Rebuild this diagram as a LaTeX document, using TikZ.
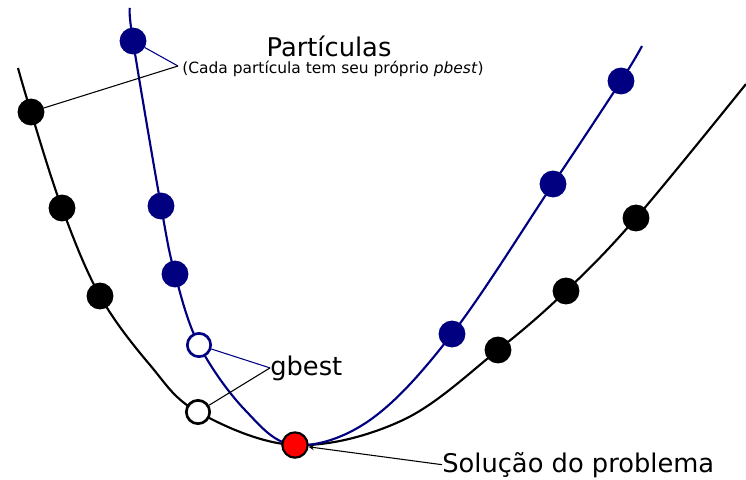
\documentclass[tikz,border=0pt]{standalone}
\usepackage{fontspec}
\setmainfont{DejaVu Sans}
\usetikzlibrary{positioning,calc}
\definecolor{psonavy}{HTML}{000080}

\begin{document}
\begin{tikzpicture}[
    x=0.75pt, y=-0.75pt,
    curve_black/.style={draw=black, line width=1.6pt},
    curve_blue/.style={draw=psonavy, line width=1.6pt},
    dot_black/.style={circle, fill=black, draw=black, line width=1.6pt, minimum size=18.5pt, inner sep=0pt},
    dot_blue/.style={circle, fill=psonavy, draw=psonavy, line width=1.6pt, minimum size=18.5pt, inner sep=0pt},
    open_black/.style={circle, fill=white, draw=black, line width=2pt, minimum size=17.5pt, inner sep=0pt},
    open_blue/.style={circle, fill=white, draw=psonavy, line width=2pt, minimum size=17.5pt, inner sep=0pt},
    sol_dot/.style={circle, fill=red, draw=black, line width=1.6pt, minimum size=19pt, inner sep=0pt},
    big_label/.style={font=\fontsize{19.3}{22}\selectfont, inner sep=0pt},
    small_label/.style={font=\fontsize{11.6}{13}\selectfont, inner sep=0pt},
    pointer/.style={line width=0.8pt},
    arrow/.style={->, >=stealth, line width=0.8pt}
]
\useasboundingbox (0,0) rectangle (746,479);

% CURVES
\draw[curve_black] plot[smooth, tension=0.6] coordinates {(18,68) (31,112) (62,208) (100,296) (150,365) (198,412) (295,445) (403,420) (498,350) (566,291) (636,218) (746,84)};
\draw[curve_blue] plot[smooth, tension=0.6] coordinates {(130,8) (133,41) (161,206) (175,274) (199,345) (245,410) (295,445) (370,420) (452,334) (553,184) (621,81) (642,46)};

% BLACK PARTICLES
\node[dot_black] (k1) at (31,112) {};
\node[dot_black] (k2) at (62,208) {};
\node[dot_black] (k3) at (100,296) {};
\node[open_black] (kbest) at (198,412) {};
\node[dot_black] (k4) at (498,350) {};
\node[dot_black] (k5) at (566,291) {};
\node[dot_black] (k6) at (636,218) {};

% BLUE PARTICLES
\node[dot_blue] (b1) at (133,41) {};
\node[dot_blue] (b2) at (161,206) {};
\node[dot_blue] (b3) at (175,274) {};
\node[open_blue] (bbest) at (199,345) {};
\node[dot_blue] (b4) at (452,334) {};
\node[dot_blue] (b5) at (553,184) {};
\node[dot_blue] (b6) at (621,81) {};

% SOLUTION
\node[sol_dot] (sol) at (295,445) {};

% LABELS
\coordinate (pjoin) at (178,66);
\node[big_label, anchor=base] (part) at (329,56) {Partículas};
\node[small_label, anchor=base west] (pnote) at (182,73) {(Cada partícula tem seu próprio \textit{pbest})};
\node[big_label, anchor=base west] (gbest) at (270,375) {gbest};
\node[big_label, anchor=base west] (soltxt) at (442,472) {Solução do problema};

% POINTERS
\draw[pointer, draw=psonavy] (pjoin) -- (b1);
\draw[pointer] (pjoin) -- (k1);
\draw[pointer, draw=psonavy] (gbest.west) -- (bbest);
\draw[pointer] (gbest.west) -- (kbest);
\draw[arrow] (soltxt.west) -- (sol);

\end{tikzpicture}
\end{document}
